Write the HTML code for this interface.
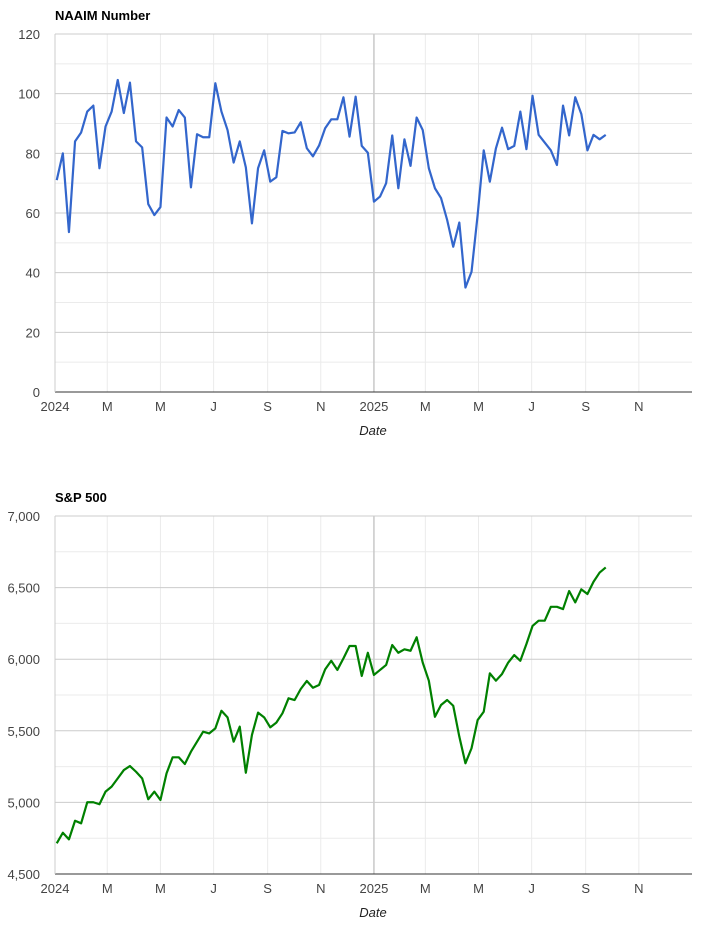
<!DOCTYPE html>
<html><head><meta charset="utf-8"><style>
body{margin:0;background:#fff;font-family:"Liberation Sans",Arial,sans-serif;}
svg text{font-family:"Liberation Sans",Arial,sans-serif;}
</style></head><body>
<svg id="chart" width="712" height="932" viewBox="0 0 712 932" xmlns="http://www.w3.org/2000/svg"></svg>
<script>
const naaimValues=[71,80,53.6,84,87,94,96,75,89,94,104.6,93.5,103.7,84,82,63,59.3,62,92,89,94.5,92,68.6,86.4,85.4,85.4,103.5,94,87.8,76.9,84,75.3,56.5,75,81,70.5,72,87.5,86.7,87,90.4,81.7,79,82.6,88.4,91.4,91.4,98.8,85.6,99,82.5,80.2,63.8,65.5,70,86,68.3,84.7,75.8,92,87.8,75,68.3,65,57.7,48.7,56.8,35,40.3,59.3,81,70.5,81.7,88.6,81.4,82.5,94,81.4,99.3,86.2,83.6,81,76.1,96,86,98.8,93.2,81,86.2,84.7,86.2];
const spxValues=[4714,4788,4742,4872,4854,5001,5001,4987,5075,5110,5168,5226,5254,5214,5168,5022,5075,5017,5203,5315,5315,5268,5354,5424,5494,5482,5517,5640,5594,5424,5529,5207,5471,5627,5594,5524,5557,5622,5727,5715,5792,5848,5801,5820,5929,5989,5925,6006,6092,6092,5883,6045,5890,5925,5960,6099,6045,6069,6059,6153,5976,5850,5598,5680,5715,5675,5459,5273,5378,5575,5633,5901,5850,5897,5976,6029,5989,6106,6232,6269,6269,6366,6366,6350,6476,6397,6488,6455,6541,6605,6641];
const startDate="2024-01-03";
const xTickDates=["2024-01-01","2024-03-01","2024-05-01","2024-07-01","2024-09-01","2024-11-01","2025-01-01","2025-03-01","2025-05-01","2025-07-01","2025-09-01","2025-11-01"];
const xTickLabels=["2024","M","M","J","S","N","2025","M","M","J","S","N"];
const naaimTicks=[0,20,40,60,80,100,120];
const spxTicks=[4500,5000,5500,6000,6500,7000];

const NS="http://www.w3.org/2000/svg";
const svg=document.getElementById('chart');
const D0=Date.parse("2024-01-01"),D1=Date.parse("2026-01-01");
const X0=55,X1=692;
function xScale(t){return X0+(t-D0)/(D1-D0)*(X1-X0);}
function mk(tag,attrs,parent){const e=document.createElementNS(NS,tag);for(const k in attrs)e.setAttribute(k,attrs[k]);(parent||svg).appendChild(e);return e;}

function drawChart(cfg){
  const g=mk('g',{});
  
  
  const yScale=v=>cfg.bottom-(v-cfg.min)/(cfg.max-cfg.min)*(cfg.bottom-cfg.top);
  // minor gridlines
  for(let i=0;i<cfg.ticks.length-1;i++){
    const mid=(cfg.ticks[i]+cfg.ticks[i+1])/2;
    const l=mk('line',{x1:X0,x2:X1,y1:yScale(mid),y2:yScale(mid),stroke:'#ebebeb','stroke-width':1},g);
    
    
  }
  // vertical gridlines
  xTickDates.forEach((d,i)=>{
    const x=xScale(Date.parse(d));
    const l=mk('line',{x1:x,x2:x,y1:cfg.top,y2:cfg.bottom,stroke:i==6?'#c8c8c8':'#ebebeb','stroke-width':i==6?1.5:1},g);
    
    
    const t=mk('text',{x:x,y:cfg.bottom+19,'text-anchor':'middle','font-size':13,fill:'#444'},g);
    t.textContent=xTickLabels[i];
    
    
  });
  // major gridlines
  cfg.ticks.forEach(v=>{
    const y=yScale(v);
    const l=mk('line',{x1:X0,x2:X1,y1:y,y2:y,stroke:v==cfg.min?'#333':'#cccccc','stroke-width':1},g);
    
    
    const t=mk('text',{x:40,y:y+5,'text-anchor':'end','font-size':13,fill:'#444'},g);
    t.textContent=cfg.fmt(v);
    
    
  });
  const ax=mk('line',{x1:X0,x2:X0,y1:cfg.top,y2:cfg.bottom,stroke:'#ccc','stroke-width':1},g);
  
  
  // series
  const s0=Date.parse(startDate);
  const pts=cfg.values.map((v,i)=>xScale(s0+i*7*86400000).toFixed(2)+','+yScale(v).toFixed(2)).join(' ');
  const pl=mk('polyline',{points:pts,fill:'none',stroke:cfg.color,'stroke-width':2.2,'stroke-linejoin':'round'},g);
  
  
  const ti=mk('text',{x:55,y:cfg.top-14,'font-size':13,'font-weight':'bold',fill:'#000'},g);
  ti.textContent=cfg.title;
  
  
  const xt=mk('text',{x:373,y:cfg.bottom+43,'text-anchor':'middle','font-size':13,'font-style':'italic',fill:'#222'},g);
  xt.textContent='Date';
  
  
}
drawChart({name:'naaim-chart',title:'NAAIM Number',values:naaimValues,ticks:naaimTicks,min:0,max:120,top:34,bottom:392,color:'#3366cc',fmt:v=>String(v)});
drawChart({name:'sp500-chart',title:'S&P 500',values:spxValues,ticks:spxTicks,min:4500,max:7000,top:516,bottom:874,color:'#008000',fmt:v=>v.toLocaleString('en-US')});
</script>
</body></html>
